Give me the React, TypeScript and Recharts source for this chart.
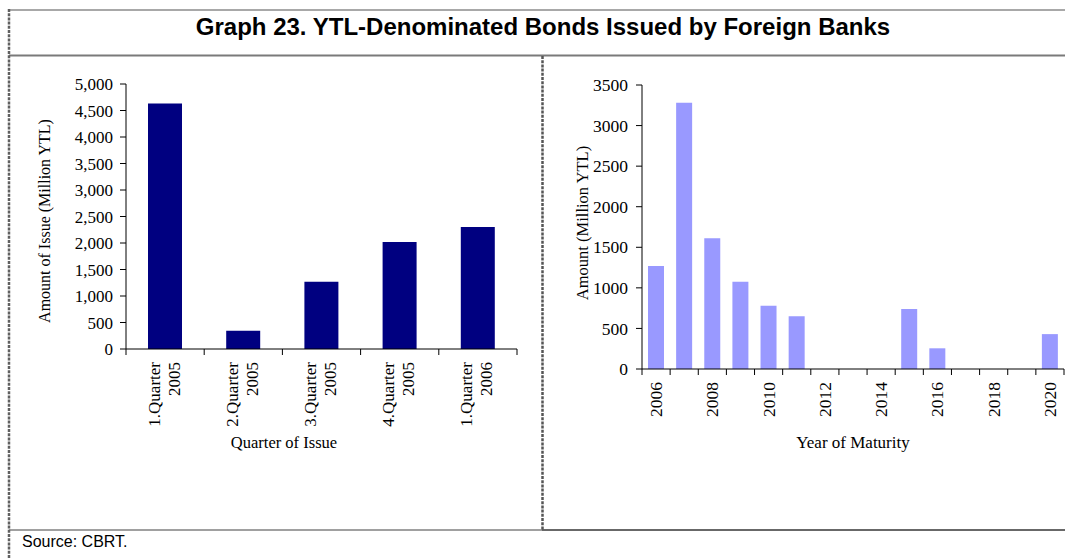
import { BarChart, Bar, XAxis, YAxis, Label } from 'recharts';

const quarters = ['1.Quarter 2005', '2.Quarter 2005', '3.Quarter 2005', '4.Quarter 2005', '1.Quarter 2006'];
const issueAmounts = [4630, 345, 1270, 2020, 2300];
const issueTicks = [0, 500, 1000, 1500, 2000, 2500, 3000, 3500, 4000, 4500, 5000];

const maturityYears = ['2006', '2007', '2008', '2009', '2010', '2011', '2012', '2013', '2014', '2015', '2016', '2017', '2018', '2019', '2020'];
const maturityAmounts = [1270, 3280, 1610, 1075, 780, 650, 0, 0, 0, 740, 255, 0, 0, 0, 430];
const maturityTicks = [0, 500, 1000, 1500, 2000, 2500, 3000, 3500];

const issueData = quarters.map((quarter, i) => ({ quarter, amount: issueAmounts[i] }));
const maturityData = maturityYears.map((year, i) => ({ year, amount: maturityAmounts[i] }));

const serif = '"Liberation Serif", "Times New Roman", serif';
const sans = '"Liberation Sans", Arial, sans-serif';

// tick marks sit on the category edges, like the Excel original
function edgeMarks(props: any) {
  const { x, y, payload, index, visibleTicksCount, width } = props;
  const half = payload.offset ?? width / (2 * visibleTicksCount);
  return (
    <>
      <line x1={x - half} x2={x - half} y1={y} y2={y + 6} stroke="#000" />
      {index === visibleTicksCount - 1 && (
        <line x1={x + half} x2={x + half} y1={y} y2={y + 6} stroke="#000" />
      )}
    </>
  );
}

function QuarterTick(props: any) {
  const { x, y, payload } = props;
  const [q, yr] = String(payload.value).split(' ');
  return (
    <g>
      {edgeMarks(props)}
      <text
        transform={`translate(${x},${y + 13}) rotate(-90)`}
        textAnchor="end"
        fontFamily={serif}
        fontSize={17}
        fill="#000"
      >
        <tspan x={0} y={-5.5}>{q}</tspan>
        <tspan x={0} y={14.5}>{yr}</tspan>
      </text>
    </g>
  );
}

function YearTick(props: any) {
  const { x, y, payload, index } = props;
  return (
    <g>
      {edgeMarks(props)}
      {index % 2 === 0 && (
        <text
          transform={`translate(${x},${y + 13}) rotate(-90)`}
          textAnchor="end"
          fontFamily={serif}
          fontSize={17.5}
          fill="#000"
        >
          <tspan x={0} y={6}>{payload.value}</tspan>
        </text>
      )}
    </g>
  );
}

const yTick = { fill: '#000', fontSize: 17, fontFamily: serif };

export default function App() {
  return (
    <div style={{ position: 'absolute', left: 0, top: 0, width: 1065, height: 559, background: '#fff', overflow: 'hidden' }}>
      <svg width={1065} height={559} style={{ position: 'absolute', left: 0, top: 0 }}>
        <line x1={9} x2={1065} y1={10} y2={10} stroke="#a8a8a8" strokeWidth={2} />
        <line x1={9} x2={1065} y1={55.5} y2={55.5} stroke="#7a7a7a" strokeWidth={2} />
        <line x1={9} x2={542} y1={530} y2={530} stroke="#a0a0a0" strokeWidth={2} />
        <line x1={542} x2={1065} y1={530} y2={530} stroke="#686868" strokeWidth={2} />
        <line x1={9} x2={9} y1={9} y2={559} stroke="#606060" strokeWidth={2.5} strokeDasharray="3 1.2" />
        <line x1={542.5} x2={542.5} y1={56} y2={530} stroke="#555" strokeWidth={2.5} strokeDasharray="3 1.2" />
        <text x={543} y={35} textAnchor="middle" fontFamily={sans} fontWeight="bold" fontSize={24} fill="#000">
          Graph 23. YTL-Denominated Bonds Issued by Foreign Banks
        </text>
        <text x={22} y={547} fontFamily={'"Liberation Sans Narrow", ' + sans} fontSize={16} fill="#000">
          Source: CBRT.
        </text>
      </svg>

      <div style={{ position: 'absolute', left: 10, top: 57 }}>
        <BarChart width={530} height={470} data={issueData} margin={{ top: 27, right: 23, left: 16, bottom: 78 }}>
          <XAxis
            dataKey="quarter"
            height={100}
            interval={0}
            tickLine={false}
            tickSize={0}
            tickMargin={0}
            axisLine={{ stroke: '#000' }}
            tick={<QuarterTick />}
          >
            <Label
              content={({ viewBox }: any) => (
                <text x={viewBox.x + viewBox.width / 2 - 37.5} y={viewBox.y + 99} textAnchor="middle" fontFamily={serif} fontSize={16.5} fill="#000">
                  Quarter of Issue
                </text>
              )}
            />
          </XAxis>
          <YAxis
            width={100}
            domain={[0, 5000]}
            ticks={issueTicks}
            interval={0}
            tickSize={6}
            tickMargin={7}
            tickLine={{ stroke: '#000' }}
            axisLine={{ stroke: '#000' }}
            tick={yTick}
            tickFormatter={(v: number) => v.toLocaleString('en-US')}
          >
            <Label
              content={({ viewBox }: any) => {
                const lx = viewBox.x + 24;
                const ly = viewBox.y + viewBox.height / 2 + 4.5;
                return (
                  <text x={lx} y={ly} transform={`rotate(-90, ${lx}, ${ly})`} textAnchor="middle" fontFamily={serif} fontSize={16} fill="#000">
                    Amount of Issue (Million YTL)
                  </text>
                );
              }}
            />
          </YAxis>
          <Bar dataKey="amount" fill="#000080" barSize={34} isAnimationActive={false} />
        </BarChart>
      </div>

      <div style={{ position: 'absolute', left: 545, top: 57 }}>
        <BarChart width={520} height={470} data={maturityData} margin={{ top: 28, right: 1, left: 17, bottom: 58 }}>
          <XAxis
            dataKey="year"
            height={100}
            interval={0}
            tickLine={false}
            tickSize={0}
            tickMargin={0}
            axisLine={{ stroke: '#000' }}
            tick={<YearTick />}
          >
            <Label
              content={({ viewBox }: any) => (
                <text x={viewBox.x + viewBox.width / 2} y={viewBox.y + 79} textAnchor="middle" fontFamily={serif} fontSize={17} fill="#000">
                  Year of Maturity
                </text>
              )}
            />
          </XAxis>
          <YAxis
            width={80}
            domain={[0, 3500]}
            ticks={maturityTicks}
            interval={0}
            tickSize={6}
            tickMargin={8}
            tickLine={{ stroke: '#000' }}
            axisLine={{ stroke: '#000' }}
            tick={{ ...yTick, fontSize: 17.5 }}
          >
            <Label
              content={({ viewBox }: any) => {
                const lx = viewBox.x + 26;
                const ly = viewBox.y + viewBox.height / 2 - 4;
                return (
                  <text x={lx} y={ly} transform={`rotate(-90, ${lx}, ${ly})`} textAnchor="middle" fontFamily={serif} fontSize={16.5} fill="#000">
                    Amount (Million YTL)
                  </text>
                );
              }}
            />
          </YAxis>
          <Bar dataKey="amount" fill="#9999ff" barSize={16} isAnimationActive={false} />
        </BarChart>
      </div>
    </div>
  );
}
